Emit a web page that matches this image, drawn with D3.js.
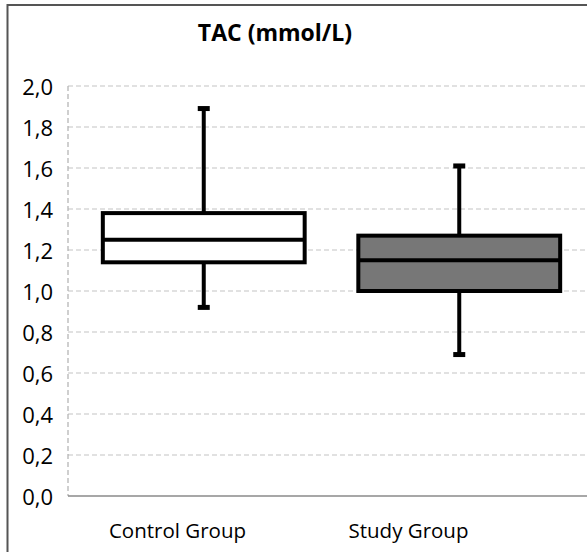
<!DOCTYPE html>
<html>
<head>
<meta charset="utf-8">
<script src="https://cdn.jsdelivr.net/npm/d3@7"></script>
<style>
  body { margin: 0; background: #fff; }
  svg { display: block; }
</style>
</head>
<body>
<script>
// box plot values
var groups = ["Control Group", "Study Group"];
var minVals = [0.92, 0.69];
var q1Vals = [1.14, 1.00];
var medians = [1.25, 1.15];
var q3Vals = [1.38, 1.27];
var maxVals = [1.89, 1.61];
var boxFills = ["#ffffff", "#777777"];
var yTicks = [0, 0.2, 0.4, 0.6, 0.8, 1.0, 1.2, 1.4, 1.6, 1.8, 2.0];

var W = 587, H = 552;
var plotLeft = 68, plotRight = 587, plotTop = 86, plotBottom = 496;

var svg = d3.select("body").append("svg").attr("width", W).attr("height", H);

// outer frame (right and bottom sides run off the picture)
svg.append("rect")
  .attr("x", 7.5).attr("y", 5)
  .attr("width", 600).attr("height", 600)
  .attr("fill", "none").attr("stroke", "#555").attr("stroke-width", 2);

var y = d3.scaleLinear().domain([0, 2]).range([plotBottom, plotTop]);
var x = d3.scaleBand().domain(groups).range([76, 587]).paddingInner(0.21).paddingOuter(0.105);
var xLabel = d3.scaleBand().domain(groups).range([62, 524]);

// gridlines
svg.append("g").selectAll("line")
  .data(yTicks.filter(function(d) { return d > 0; }))
  .enter().append("line")
    .attr("x1", plotLeft).attr("x2", plotRight)
    .attr("y1", function(d) { return y(d); })
    .attr("y2", function(d) { return y(d); })
    .attr("stroke", "#c4c4c4").attr("stroke-width", 1.2)
    .attr("stroke-dasharray", "5,3");

// left dashed line and bottom axis
svg.append("line")
  .attr("x1", plotLeft).attr("x2", plotLeft).attr("y1", y(2)).attr("y2", y(0))
  .attr("stroke", "#b0b0b0").attr("stroke-width", 1.2).attr("stroke-dasharray", "5,3");
svg.append("line")
  .attr("x1", plotLeft).attr("x2", plotRight).attr("y1", y(0)).attr("y2", y(0))
  .attr("stroke", "#8a8a8a").attr("stroke-width", 1.6);

// y axis labels
var yAxis = d3.axisLeft(y).tickValues(yTicks).tickSize(0).tickPadding(15)
  .tickFormat(function(d) { return d3.format(".1f")(d).replace(".", ","); });
var ya = svg.append("g").attr("transform", "translate(" + plotLeft + ",0)").call(yAxis);
ya.select(".domain").remove();
ya.selectAll("text")
  .attr("font-family", "'Open Sans', sans-serif")
  .attr("font-size", 22).attr("fill", "#000").attr("dy", "0.38em");

// category labels
svg.append("g").selectAll("text")
  .data(groups)
  .enter().append("text")
    .attr("x", function(d) { return xLabel(d) + xLabel.bandwidth() / 2; })
    .attr("y", 538)
    .attr("text-anchor", "middle")
    .attr("font-family", "'Open Sans', sans-serif")
    .attr("font-size", 20.5).attr("fill", "#000")
    .text(function(d) { return d; });

// title
svg.append("text")
  .attr("x", 275).attr("y", 41)
  .attr("text-anchor", "middle")
  .attr("font-family", "'Open Sans', sans-serif")
  .attr("font-weight", "bold")
  .attr("font-size", 23).attr("fill", "#000")
  .text("TAC (mmol/L)");

// boxes
var bw = x.bandwidth();
var capW = 12;
var boxes = svg.append("g").selectAll("g")
  .data(groups)
  .enter().append("g");

boxes.each(function(d, i) {
  var g = d3.select(this);
  var cx = x(d) + bw / 2;
  // whiskers
  g.append("line")
    .attr("x1", cx).attr("x2", cx).attr("y1", y(maxVals[i])).attr("y2", y(q3Vals[i]))
    .attr("stroke", "#000").attr("stroke-width", 4);
  g.append("line")
    .attr("x1", cx).attr("x2", cx).attr("y1", y(q1Vals[i])).attr("y2", y(minVals[i]))
    .attr("stroke", "#000").attr("stroke-width", 4);
  g.append("line")
    .attr("x1", cx - capW / 2).attr("x2", cx + capW / 2)
    .attr("y1", y(maxVals[i])).attr("y2", y(maxVals[i]))
    .attr("stroke", "#000").attr("stroke-width", 5);
  g.append("line")
    .attr("x1", cx - capW / 2).attr("x2", cx + capW / 2)
    .attr("y1", y(minVals[i])).attr("y2", y(minVals[i]))
    .attr("stroke", "#000").attr("stroke-width", 5);
  // box
  g.append("rect")
    .attr("x", x(d)).attr("width", bw)
    .attr("y", y(q3Vals[i])).attr("height", y(q1Vals[i]) - y(q3Vals[i]))
    .attr("fill", boxFills[i]).attr("stroke", "#000").attr("stroke-width", 4);
  g.append("line")
    .attr("x1", x(d)).attr("x2", x(d) + bw)
    .attr("y1", y(medians[i])).attr("y2", y(medians[i]))
    .attr("stroke", "#000").attr("stroke-width", 4);
});
</script>
</body>
</html>
